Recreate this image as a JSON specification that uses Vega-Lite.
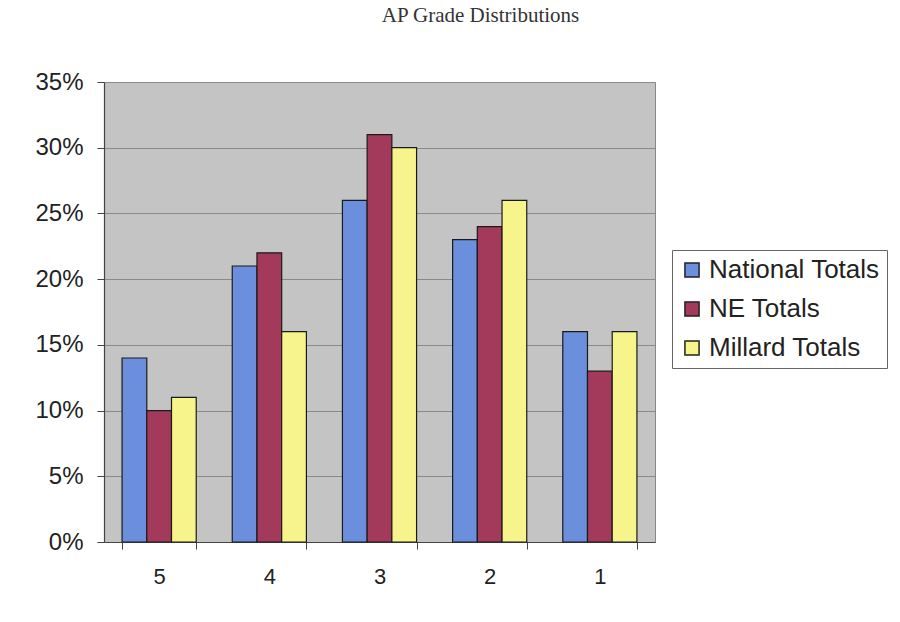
{
  "$schema": "https://vega.github.io/schema/vega-lite/v6.json",
  "width": 551,
  "height": 460,
  "autosize": {"type": "none"},
  "padding": {"left": 104, "top": 82, "right": 245, "bottom": 80},
  "background": "white",
  "title": {
    "text": "AP Grade Distributions",
    "font": "Liberation Serif",
    "fontSize": 21,
    "fontWeight": "normal",
    "color": "#333",
    "anchor": "middle",
    "frame": "group",
    "dx": 101,
    "offset": 44
  },
  "data": {
    "values": [
      {"grade": "5", "series": "National Totals", "pct": 0.14},
      {"grade": "5", "series": "NE Totals", "pct": 0.10},
      {"grade": "5", "series": "Millard Totals", "pct": 0.11},
      {"grade": "4", "series": "National Totals", "pct": 0.21},
      {"grade": "4", "series": "NE Totals", "pct": 0.22},
      {"grade": "4", "series": "Millard Totals", "pct": 0.16},
      {"grade": "3", "series": "National Totals", "pct": 0.26},
      {"grade": "3", "series": "NE Totals", "pct": 0.31},
      {"grade": "3", "series": "Millard Totals", "pct": 0.30},
      {"grade": "2", "series": "National Totals", "pct": 0.23},
      {"grade": "2", "series": "NE Totals", "pct": 0.24},
      {"grade": "2", "series": "Millard Totals", "pct": 0.26},
      {"grade": "1", "series": "National Totals", "pct": 0.16},
      {"grade": "1", "series": "NE Totals", "pct": 0.13},
      {"grade": "1", "series": "Millard Totals", "pct": 0.16}
    ]
  },
  "mark": {"type": "bar", "stroke": "#1a1a1a", "strokeWidth": 1.2},
  "encoding": {
    "x": {
      "field": "grade",
      "type": "nominal",
      "sort": ["5", "4", "3", "2", "1"],
      "scale": {"paddingInner": 0.327, "paddingOuter": 0.164},
      "axis": {
        "title": null,
        "labelAngle": 0,
        "labelFont": "Liberation Sans",
        "labelFontSize": 22,
        "labelColor": "#222",
        "labelPadding": 17,
        "tickBand": "extent",
        "tickSize": 7,
        "tickColor": "#444",
        "domainColor": "#444",
        "domainWidth": 1.2
      }
    },
    "xOffset": {
      "field": "series",
      "type": "nominal",
      "sort": ["National Totals", "NE Totals", "Millard Totals"],
      "scale": {"paddingInner": 0, "paddingOuter": 0}
    },
    "y": {
      "field": "pct",
      "type": "quantitative",
      "scale": {"domain": [0, 0.35]},
      "axis": {
        "title": null,
        "format": ".0%",
        "values": [0, 0.05, 0.1, 0.15, 0.2, 0.25, 0.3, 0.35],
        "labelFont": "Liberation Sans",
        "labelFontSize": 24,
        "labelColor": "#222",
        "labelPadding": 14,
        "tickSize": 7,
        "tickColor": "#444",
        "domainColor": "#444",
        "domainWidth": 1.2,
        "gridColor": "#8a8a8a",
        "gridWidth": 1
      }
    },
    "color": {
      "field": "series",
      "type": "nominal",
      "sort": ["National Totals", "NE Totals", "Millard Totals"],
      "scale": {
        "domain": ["National Totals", "NE Totals", "Millard Totals"],
        "range": ["#6b8fdc", "#a33a5c", "#f8f48c"]
      },
      "legend": {
        "title": null,
        "orient": "none",
        "legendX": 568,
        "legendY": 168,
        "symbolType": "square",
        "symbolSize": 200,
        "symbolStrokeColor": "#222",
        "symbolStrokeWidth": 1.5,
        "labelFont": "Liberation Sans",
        "labelFontSize": 26,
        "labelLimit": 0,
        "labelColor": "#222",
        "labelOffset": 4,
        "rowPadding": 13,
        "padding": 7,
        "strokeColor": "#666",
        "fillColor": "white"
      }
    }
  },
  "config": {
    "view": {"fill": "#c4c4c4", "stroke": "#888"}
  }
}
